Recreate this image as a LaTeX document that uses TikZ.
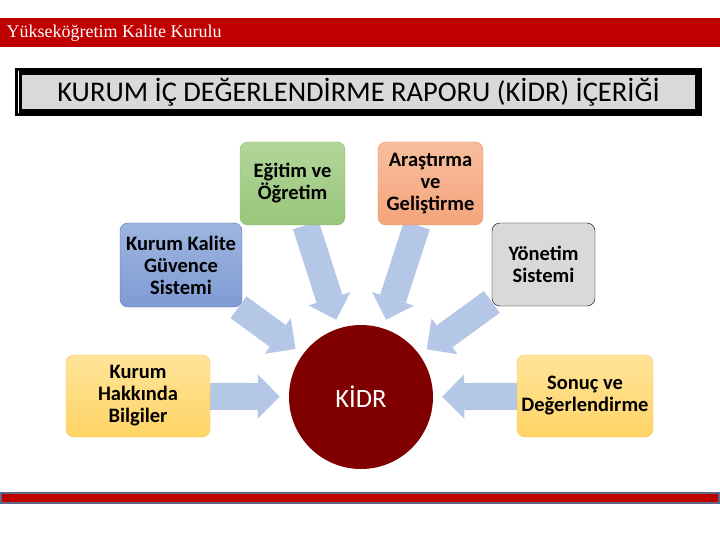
\documentclass[tikz,border=0pt]{standalone}
\usepackage{fontspec}
\setmainfont{Liberation Serif}
\newfontfamily\calfont{Carlito}
\usetikzlibrary{arrows.meta,backgrounds}

\definecolor{hdrred}{HTML}{C00000}
\definecolor{barblue}{HTML}{5F6785}
\definecolor{titlegray}{HTML}{D9D9D9}
\definecolor{flowblue}{HTML}{B4C7E7}
\definecolor{kidrred}{HTML}{800000}
\definecolor{greentop}{HTML}{B2D69A}
\definecolor{greenbot}{HTML}{98C67A}
\definecolor{greenline}{HTML}{84B866}
\definecolor{salmtop}{HTML}{F8BE9D}
\definecolor{salmbot}{HTML}{F4A47C}
\definecolor{salmline}{HTML}{E98A5C}
\definecolor{bluetop}{HTML}{9DB5E0}
\definecolor{bluebot}{HTML}{7F9BD3}
\definecolor{blueline}{HTML}{5573B5}
\definecolor{goldtop}{HTML}{FFE49A}
\definecolor{goldbot}{HTML}{FFD465}
\definecolor{goldline}{HTML}{F2C24A}

\begin{document}
\begin{tikzpicture}[x=1pt,y=-1pt,
  box/.style={rounded corners=8pt,inner sep=1pt,align=center,
    font=\calfont\bfseries\fontsize{20.5}{22}\selectfont},
  flow/.style={draw=flowblue,line width=27pt,shorten >=9pt,
    -{Triangle[length=22pt,width=44pt,line width=0pt]}}]

\useasboundingbox (0,0) rectangle (720,540);

% header
\fill[hdrred] (0,18) rectangle (720,47);
\node[anchor=west,text=white,font=\fontsize{18}{20}\selectfont]
(T)
at (3,33)
{Yükseköğretim Kalite Kurulu};

% title
\node[draw=black,line width=7pt,fill=titlegray,inner sep=0pt,
  minimum width=680pt,minimum height=41pt,
  font=\calfont\fontsize{28.5}{30}\selectfont]
(B)
at (358.5,92)
{KURUM İÇ DEĞERLENDİRME RAPORU (KİDR) İÇERİĞİ};
\draw[white,line width=0.8pt] (18.5,71) -- (18.5,113);

% boxes
\node[box,draw=greenline,top color=greentop,bottom color=greenbot,
  minimum width=105pt,minimum height=83pt]
(E)
at (292.5,183.5)
{Eğitim ve\\Öğretim};

\node[box,draw=salmline,top color=salmtop,bottom color=salmbot,
  minimum width=105pt,minimum height=83pt]
(A)
at (430.5,183.5)
{Araştırma\\ve\\Geliştirme};

\node[box,draw=blueline,top color=bluetop,bottom color=bluebot,
  minimum width=122pt,minimum height=84pt]
(K)
at (181,265)
{Kurum Kalite\\Güvence\\Sistemi};

\node[box,draw=black,fill=titlegray,
  minimum width=103pt,minimum height=83pt]
(Y)
at (543.5,264.5)
{Yönetim\\Sistemi};

\node[box,draw=goldline,top color=goldtop,bottom color=goldbot,
  minimum width=144pt,minimum height=82pt]
(H)
at (138,396)
{Kurum\\Hakkında\\Bilgiler};

\node[box,draw=goldline,top color=goldtop,bottom color=goldbot,
  minimum width=136pt,minimum height=82pt]
(S)
at (585,396)
{Sonuç ve\\Değerlendirme};

\node[circle,fill=kidrred,minimum size=144pt,text=white,
  font=\calfont\fontsize{26.5}{28}\selectfont]
(R)
at (361,397)
{KİDR};

\begin{pgfonlayer}{background}
\draw[flow] (E) -- (R);
\draw[flow] (A) -- (R);
\draw[flow] (K) -- (R);
\draw[flow] (Y) -- (R);
\draw[flow] (H) -- (R);
\draw[flow] (S) -- (R);
\end{pgfonlayer}

% footer
\draw[barblue,line width=2pt,fill=hdrred] (1,493) rectangle (719,503);

\end{tikzpicture}
\end{document}
